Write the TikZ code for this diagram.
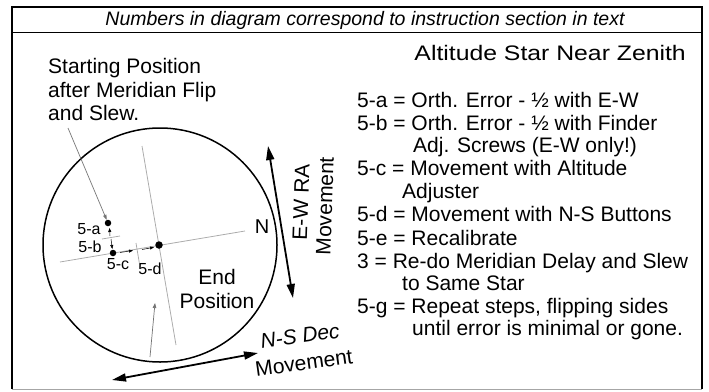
\documentclass[tikz,border=0pt]{standalone}
\usepackage{fontspec}
\setmainfont{Liberation Sans}
\newfontfamily\titlefont[FakeStretch=1.18]{Liberation Sans}
\usetikzlibrary{arrows.meta}
\tikzset{
  txt/.style={font=\fontsize{21}{24.5}\selectfont, inner sep=0pt},
  lbl/.style={font=\fontsize{16}{18}\selectfont, inner sep=0pt},
  hair/.style={gray!65, line width=0.8pt},
  pointer/.style={black!55, line width=0.7pt, -{Triangle[length=5pt,width=3.5pt]}},
  tinyarrow/.style={line width=0.5pt, -{Triangle[length=4pt,width=3pt]}},
  bigarrow/.style={line width=1.8pt, {Triangle[length=14pt,width=8pt]}-{Triangle[length=14pt,width=8pt]}},
  stardot/.style={circle, fill, inner sep=0pt, minimum size=6.5pt}
}
\begin{document}
\begin{tikzpicture}[x=1pt,y=-1pt]
\useasboundingbox (0,0) rectangle (709,391);
\draw[line width=2pt] (12,389) -- (12,7) -- (702,7) -- (702,389);
\draw[gray!70, line width=1.5pt] (12,389.5) -- (702,389.5);
\draw[line width=1pt] (12,32) -- (702,32);
\node[txt, font=\itshape\fontsize{19.5}{20}\selectfont, anchor=base] (hdr) at (365,25.5) {Numbers in diagram correspond to instruction section in text};
\node[txt, font=\titlefont\fontsize{21}{24}\selectfont, anchor=base east] (ttl) at (686,60) {Altitude Star Near Zenith};

\node[txt, anchor=base west] (st1) at (48,73) {Starting Position};
\node[txt, anchor=base west] (st2) at (48,97) {after Meridian Flip};
\node[txt, anchor=base west] (st3) at (48,120) {and Slew.};

\node[txt, anchor=base west] (it1) at (357,107) {5-a = Orth. Error - ½ with E-W};
\node[txt, anchor=base west] (it2) at (357,130) {5-b = Orth. Error - ½ with Finder};
\node[txt, anchor=base west] (it3) at (413,152) {Adj. Screws (E-W only!)};
\node[txt, anchor=base west] (it4) at (357,175) {5-c = Movement with Altitude};
\node[txt, anchor=base west] (it5) at (402,198) {Adjuster};
\node[txt, anchor=base west] (it6) at (357,221) {5-d = Movement with N-S Buttons};
\node[txt, anchor=base west] (it7) at (357,245) {5-e = Recalibrate};
\node[txt, anchor=base west] (it8) at (357,268) {3 = Re-do Meridian Delay and Slew};
\node[txt, anchor=base west] (it9) at (402,290) {to Same Star};
\node[txt, anchor=base west] (it10) at (357,313) {5-g = Repeat steps, flipping sides};
\node[txt, anchor=base west] (it11) at (412,335) {until error is minimal or gone.};

\draw[line width=1.5pt] (160,245) circle (117);
\draw[hair] (60,262) -- (245,231);
\draw[hair] (142,146) -- (176,345);
\draw[hair] (102,239) -- (120,236);
\draw[hair] (136,243) -- (140,267);

\node[stardot] (dotA) at (108,223) {};
\node[stardot] (dotB) at (113,253) {};
\node[stardot, minimum size=7.5pt] (dotC) at (159,245) {};

\coordinate (ptrA) at (68,128);
\draw[pointer] (ptrA) -- (dotA);
\coordinate (ptrB) at (150,357);
\coordinate (ptrC) at (155,303);
\draw[pointer] (ptrB) -- (ptrC);

\draw[tinyarrow] (110,236) -- (109.5,228);
\draw[tinyarrow] (111,239) -- (112.3,249);
\draw[tinyarrow] (120,252.5) -- (133,250.5);
\draw[tinyarrow] (142,249.5) -- (154,247.3);

\node[lbl] (lA) at (89,229) {5-a};
\node[lbl] (lB) at (90,247) {5-b};
\node[lbl] (lC) at (118,264) {5-c};
\node[lbl] (lD) at (150,269) {5-d};
\node[txt, font=\fontsize{20}{22}\selectfont] (north) at (262,227) {N};
\node[txt, align=center] (endpos) at (217,289) {End\\Position};

\coordinate (ewT) at (268,146);
\coordinate (ewB) at (293,298);
\draw[bigarrow] (ewT) -- (ewB);
\node[txt, rotate=88] (ewtxt) at (301,202) {E-W RA};
\node[txt, rotate=88] (ewmov) at (325,206) {Movement};

\coordinate (nsL) at (112,380);
\coordinate (nsR) at (258,353);
\draw[bigarrow] (nsL) -- (nsR);
\node[txt, font=\itshape\fontsize{21}{24}\selectfont, rotate=8] (nstxt) at (300,336) {N-S Dec};
\node[txt, rotate=8] (nsmov) at (304,363) {Movement};
\end{tikzpicture}
\end{document}
